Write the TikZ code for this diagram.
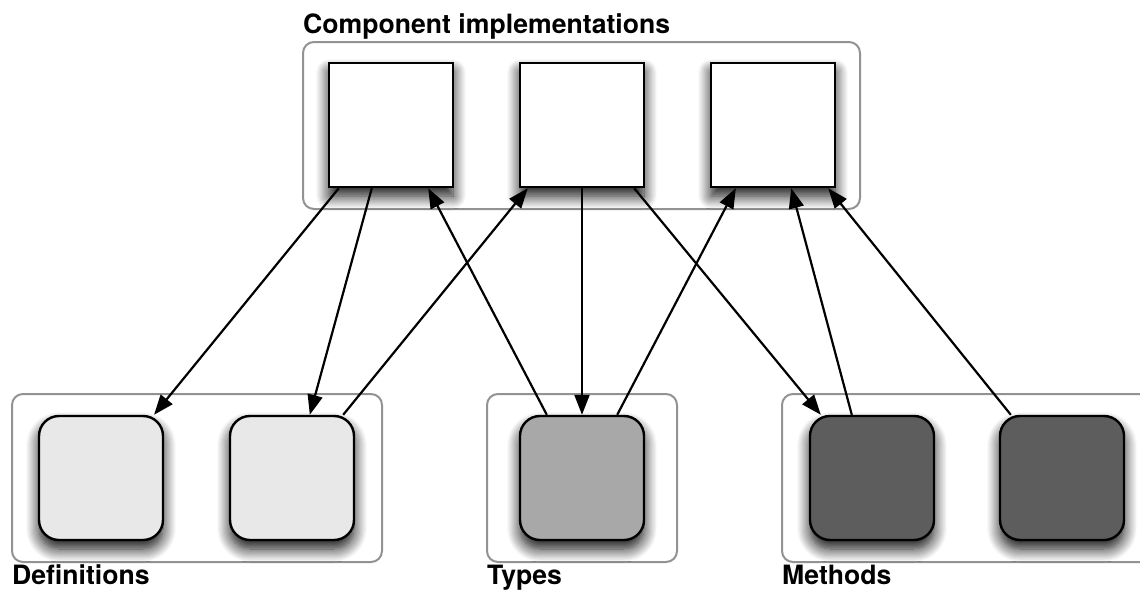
\documentclass[tikz,border=0pt]{standalone}
\usepackage{fontspec}
\setmainfont{TeX Gyre Heros}
\usetikzlibrary{shadows.blur,arrows.meta}
\definecolor{lightfill}{HTML}{E8E8E8}
\definecolor{midfill}{HTML}{A8A8A8}
\definecolor{darkfill}{HTML}{5D5D5D}
\definecolor{groupline}{HTML}{929292}
\tikzset{
  groupbox/.style={draw=groupline, line width=2pt, rounded corners=11pt},
  shadowed/.style={blur shadow={shadow xshift=0pt, shadow yshift=-9pt, shadow blur radius=13pt, shadow blur steps=12, shadow opacity=95}},
  implbox/.style={draw=black, line width=2.4pt, fill=white, minimum width=124pt, minimum height=124pt, inner sep=0pt, shadowed},
  itembox/.style={draw=black, line width=2.4pt, rounded corners=20pt, minimum width=124pt, minimum height=124pt, inner sep=0pt, shadowed},
  grouplabel/.style={font=\bfseries\fontsize{26.6}{28}\selectfont, anchor=base west, inner sep=0pt},
  link/.style={line width=2.2pt, -{Triangle[length=20pt,width=15pt]}}
}
\begin{document}
\begin{tikzpicture}[x=1pt,y=-1pt]
\useasboundingbox (0,0) rectangle (1140,589);
\clip (0,0) rectangle (1140,589);
% groups
\draw[groupbox] (303,42) rectangle (860,209);
\draw[groupbox] (12,394) rectangle (382,562);
\draw[groupbox] (487,394) rectangle (677,562);
\draw[groupbox] (782,394) rectangle (1170,562);
% labels
\node[grouplabel] (tcomp) at (303,33) {Component implementations};
\node[grouplabel] (tdef) at (12,584) {Definitions};
\node[grouplabel] (ttyp) at (487,584) {Types};
\node[grouplabel] (tmet) at (782,584) {Methods};
% top boxes
\node[implbox] (sq1) at (391,125) {};
\node[implbox] (sq2) at (582,125) {};
\node[implbox] (sq3) at (773,125) {};
% bottom boxes
\node[itembox, fill=lightfill] (def1) at (101,478) {};
\node[itembox, fill=lightfill] (def2) at (292,478) {};
\node[itembox, fill=midfill] (typ) at (582,478) {};
\node[itembox, fill=darkfill] (met1) at (872,478) {};
\node[itembox, fill=darkfill] (met2) at (1062,478) {};
% connectors
\draw[link] ([xshift=11pt]sq1.south west) -- (def1.50);
\draw[link] ([xshift=44pt]sq1.south west) -- ([xshift=81pt]def2.north west);
\draw[link] (def2.51) -- ([xshift=9pt]sq2.south west);
\draw[link] ([xshift=28pt]typ.north west) -- ([xshift=-26pt]sq1.south east);
\draw[link] (sq2.south) -- (typ.north);
\draw[link] ([xshift=-28pt]typ.north east) -- ([xshift=26pt]sq3.south west);
\draw[link] ([xshift=-11pt]sq2.south east) -- (met1.129);
\draw[link] ([xshift=43pt]met1.north west) -- ([xshift=-45pt]sq3.south east);
\draw[link] (met2.129) -- ([xshift=-8pt]sq3.south east);
\end{tikzpicture}
\end{document}
